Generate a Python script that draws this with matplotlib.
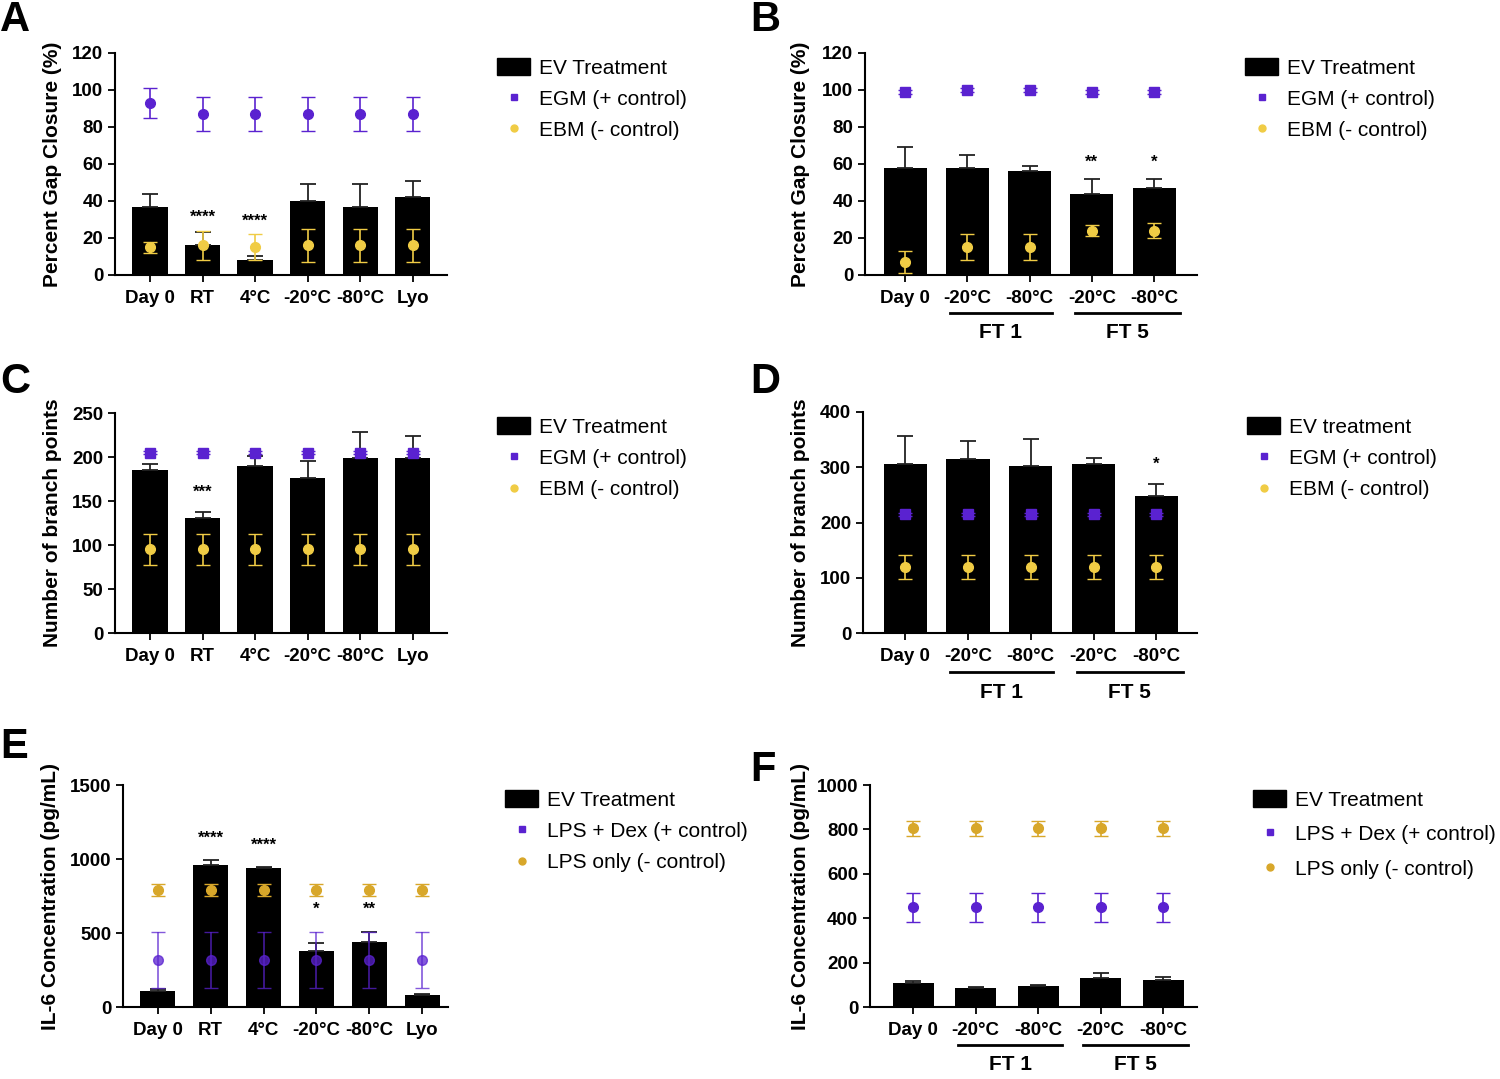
import numpy as np
import matplotlib
matplotlib.use('Agg')
import matplotlib.pyplot as plt
from matplotlib.lines import Line2D
from matplotlib.patches import Patch
import matplotlib.transforms as mtransforms

plt.rcParams['font.family'] = ['Liberation Sans', 'DejaVu Sans']

# ---- data ----
cats6 = ['Day 0', 'RT', '4°C', '-20°C', '-80°C', 'Lyo']
cats5 = ['Day 0', '-20°C', '-80°C', '-20°C', '-80°C']

# A: gap closure, storage
a_ev = [37, 16, 8, 40, 37, 42]
a_ev_err = [7, 7, 2, 9, 12, 9]
a_pos = [93, 87, 87, 87, 87, 87]
a_pos_err = [8, 9, 9, 9, 9, 9]
a_neg = [15, 16, 15, 16, 16, 16]
a_neg_err = [3, 8, 7, 9, 9, 9]
a_sig = ['', '****', '****', '', '', '']

# B: gap closure, freeze-thaw
b_ev = [58, 58, 56, 44, 47]
b_ev_err = [11, 7, 3, 8, 5]
b_pos = [99, 100, 100, 99, 99]
b_pos_err = [1, 1, 1, 1, 1]
b_neg = [7, 15, 15, 24, 24]
b_neg_err = [6, 7, 7, 3, 4]
b_sig = ['', '', '', '**', '*']

# C: branch points, storage
c_ev = [185, 131, 190, 176, 199, 199]
c_ev_err = [7, 6, 11, 19, 29, 25]
c_pos = [205, 205, 205, 205, 205, 205]
c_pos_err = [2, 2, 2, 2, 2, 2]
c_neg = [95, 95, 95, 95, 95, 95]
c_neg_err = [18, 18, 18, 18, 18, 18]
c_sig = ['', '***', '', '', '', '']

# D: branch points, freeze-thaw
d_ev = [305, 315, 302, 305, 248]
d_ev_err = [52, 33, 50, 12, 21]
d_pos = [215, 215, 215, 215, 215]
d_pos_err = [3, 3, 3, 3, 3]
d_neg = [120, 120, 120, 120, 120]
d_neg_err = [22, 22, 22, 22, 22]
d_sig = ['', '', '', '', '*']

# E: IL-6, storage
e_ev = [110, 960, 940, 380, 440, 80]
e_ev_err = [10, 30, 5, 50, 70, 10]
e_pos = [320, 320, 320, 320, 320, 320]
e_pos_err = [190, 190, 190, 190, 190, 190]
e_neg = [790, 790, 790, 790, 790, 790]
e_neg_err = [40, 40, 40, 40, 40, 40]
e_sig = ['', '****', '****', '*', '**', '']

# F: IL-6, freeze-thaw
f_ev = [110, 85, 95, 130, 120]
f_ev_err = [5, 5, 5, 25, 15]
f_pos = [450, 450, 450, 450, 450]
f_pos_err = [65, 65, 65, 65, 65]
f_neg = [805, 805, 805, 805, 805]
f_neg_err = [35, 35, 35, 35, 35]
f_sig = ['', '', '', '', '']

PURPLE = '#5a22d0'
YELLOW = '#f0cc45'
GOLD = '#d8a72a'

W, H = 1500, 1079
fig = plt.figure(figsize=(15, 10.79), dpi=100)


def add_ax(x0, x1, ytop, ybot):
    return fig.add_axes([x0 / W, 1 - ybot / H, (x1 - x0) / W, (ybot - ytop) / H])


def panel(ax, cats, ev, ev_err, pos, pos_err, neg, neg_err, sig, ymax, step,
          ylabel, xlim, width, sig_off, negc, posalpha=1.0, pos_marker='s',
          sig_above_pos=False):
    x = np.arange(len(cats))
    ax.bar(x, ev, width=width, color='black', zorder=2)
    ax.errorbar(x, ev, yerr=[np.zeros(len(ev)), ev_err], fmt='none',
                ecolor='#222222', elinewidth=1.3, capsize=6, capthick=1.3, zorder=2)
    ax.errorbar(x, pos, yerr=pos_err, fmt=pos_marker, color=PURPLE, ms=7,
                elinewidth=1.2, capsize=5, alpha=posalpha, zorder=4)
    ax.errorbar(x, neg, yerr=neg_err, fmt='o', color=negc, ms=7,
                elinewidth=1.2, capsize=5, zorder=4)
    for i, s in enumerate(sig):
        if s:
            top = ev[i] + ev_err[i]
            if neg[i] < top + sig_off * 3 and neg[i] > 0:
                top = max(top, neg[i] + neg_err[i]) if neg[i] - neg_err[i] < top else top
            if sig_above_pos and pos[i] + pos_err[i] > top and pos[i] < top:
                top = pos[i] + pos_err[i]
            ax.text(x[i], top + sig_off, s, ha='center', va='bottom',
                    fontsize=12, fontweight='bold')
    ax.set_xlim(*xlim)
    ax.set_ylim(0, ymax)
    ax.set_yticks(np.arange(0, ymax + 1, step))
    ax.set_xticks(x)
    ax.set_xticklabels(cats)
    for sp in ['top', 'right']:
        ax.spines[sp].set_visible(False)
    for sp in ['left', 'bottom']:
        ax.spines[sp].set_linewidth(1.5)
    ax.tick_params(axis='both', labelsize=13.5, width=1.3, length=5)
    ax.tick_params(axis='x', pad=6)
    for lab in ax.get_xticklabels() + ax.get_yticklabels():
        lab.set_fontweight('bold')
    ax.set_ylabel(ylabel, fontsize=15, fontweight='bold')


def ft_brackets(ax, yline, ytext, groups):
    trans = mtransforms.blended_transform_factory(ax.transData, ax.transAxes)
    for (x0, x1, lab) in groups:
        ax.plot([x0, x1], [yline, yline], color='black', lw=2,
                transform=trans, clip_on=False)
        ax.text((x0 + x1) / 2, ytext, lab, transform=trans, ha='center',
                va='center', fontsize=15, fontweight='bold')


def legend(x, y, labels, negc, spacing=0.55):
    handles = [Patch(facecolor='black', edgecolor='black'),
               Line2D([], [], ls='', marker='s', color=PURPLE, ms=5),
               Line2D([], [], ls='', marker='o', color=negc, ms=5)]
    fig.legend(handles, labels, loc='upper left',
               bbox_to_anchor=(x / W, 1 - y / H), frameon=False, fontsize=15,
               labelspacing=spacing, handlelength=1.6, handleheight=0.9,
               handletextpad=0.4, borderaxespad=0, borderpad=0)


groups = [(0.72, 2.36, 'FT 1'), (2.73, 4.42, 'FT 5')]

axA = add_ax(115, 447, 53, 275)
panel(axA, cats6, a_ev, a_ev_err, a_pos, a_pos_err, a_neg, a_neg_err, a_sig,
      120, 20, 'Percent Gap Closure (%)', (-0.665, 5.65), 0.67, 3, YELLOW,
      pos_marker='o')
axA.yaxis.set_label_coords(-0.16, 0.5)

axB = add_ax(865, 1197, 53, 275)
panel(axB, cats5, b_ev, b_ev_err, b_pos, b_pos_err, b_neg, b_neg_err, b_sig,
      120, 20, 'Percent Gap Closure (%)', (-0.645, 4.69), 0.69, 5, YELLOW)
axB.yaxis.set_label_coords(-0.166, 0.5)
ft_brackets(axB, -0.171, -0.26, groups)

axC = add_ax(115, 447, 413, 633)
panel(axC, cats6, c_ev, c_ev_err, c_pos, c_pos_err, c_neg, c_neg_err, c_sig,
      250, 50, 'Number of branch points', (-0.665, 5.65), 0.67, 14, YELLOW)
axC.yaxis.set_label_coords(-0.16, 0.5)

axD = add_ax(863, 1197, 412, 633)
panel(axD, cats5, d_ev, d_ev_err, d_pos, d_pos_err, d_neg, d_neg_err, d_sig,
      400, 100, 'Number of branch points', (-0.675, 4.65), 0.69, 22, YELLOW)
axD.yaxis.set_label_coords(-0.159, 0.5)
ft_brackets(axD, -0.176, -0.27, groups)

axE = add_ax(123, 448, 785, 1007)
panel(axE, cats6, e_ev, e_ev_err, e_pos, e_pos_err, e_neg, e_neg_err, e_sig,
      1500, 500, 'IL-6 Concentration (pg/mL)', (-0.66, 5.49), 0.66, 100, GOLD,
      posalpha=0.75, pos_marker='o', sig_above_pos=True)
axE.yaxis.set_label_coords(-0.194, 0.5)

axF = add_ax(870, 1197, 785, 1007)
panel(axF, cats5, f_ev, f_ev_err, f_pos, f_pos_err, f_neg, f_neg_err, f_sig,
      1000, 200, 'IL-6 Concentration (pg/mL)', (-0.69, 4.54), 0.66, 10, GOLD,
      pos_marker='o')
axF.yaxis.set_label_coords(-0.183, 0.5)
ft_brackets(axF, -0.171, -0.26, [(0.72, 2.38, 'FT 1'), (2.72, 4.4, 'FT 5')])

legend(497, 58, ['EV Treatment', 'EGM (+ control)', 'EBM (- control)'], YELLOW)
legend(1245, 58, ['EV Treatment', 'EGM (+ control)', 'EBM (- control)'], YELLOW)
legend(497, 417, ['EV Treatment', 'EGM (+ control)', 'EBM (- control)'], YELLOW)
legend(1247, 417, ['EV treatment', 'EGM (+ control)', 'EBM (- control)'], YELLOW)
legend(505, 790, ['EV Treatment', 'LPS + Dex (+ control)', 'LPS only (- control)'], GOLD)
legend(1253, 790, ['EV Treatment', 'LPS + Dex (+ control)', 'LPS only (- control)'], GOLD, spacing=0.7)

for lab, px, py in [('A', 0, 20), ('B', 750, 20), ('C', 0, 382),
                    ('D', 750, 382), ('E', 0, 747), ('F', 750, 770)]:
    fig.text(px / W, 1 - py / H, lab, fontsize=30, fontweight='bold',
             ha='left', va='center')

fig.savefig('out.png', dpi=100)
